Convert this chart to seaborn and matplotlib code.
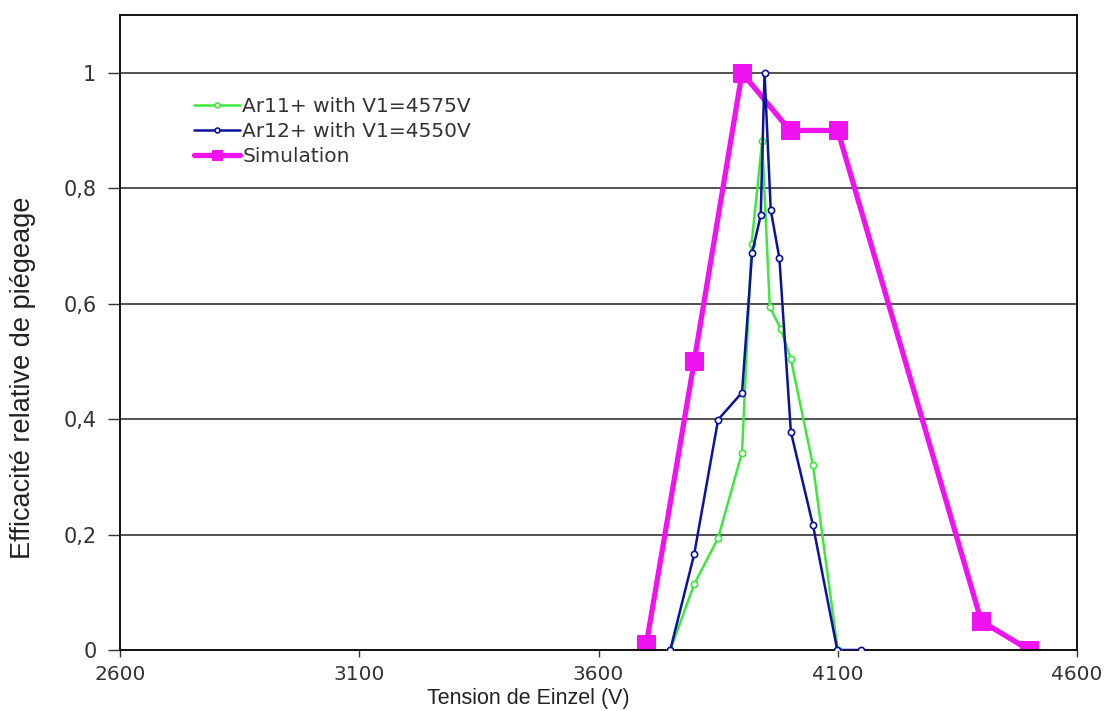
import matplotlib
matplotlib.use("Agg")
import matplotlib.pyplot as plt
import seaborn as sns
import pandas as pd

# Measured trapping efficiency (Ar11+, V1 = 4575 V)
ar11_v = [3750, 3800, 3850, 3900, 3920, 3942, 3958, 3981, 4002, 4048, 4100]
ar11_eff = [0.0, 0.114, 0.194, 0.342, 0.704, 0.881, 0.594, 0.556, 0.504, 0.321, 0.0]

# Measured trapping efficiency (Ar12+, V1 = 4550 V)
ar12_v = [3750, 3800, 3850, 3900, 3921, 3939, 3947, 3960, 3978, 4002, 4048, 4099, 4148]
ar12_eff = [0.0, 0.166, 0.399, 0.446, 0.688, 0.753, 1.0, 0.762, 0.679, 0.378, 0.217, 0.0, 0.0]

# Simulated efficiency
sim_v = [3700, 3800, 3900, 4000, 4100, 4400, 4500]
sim_eff = [0.01, 0.5, 1.0, 0.9, 0.9, 0.05, 0.0]

series_names = ["Ar11+ with V1=4575V", "Ar12+ with V1=4550V", "Simulation"]
x_ticks = [2600, 3100, 3600, 4100, 4600]
y_ticks = [0, 0.2, 0.4, 0.6, 0.8, 1.0]
y_tick_labels = ["0", "0,2", "0,4", "0,6", "0,8", "1"]

sns.set_theme(style="white")
plt.rcParams["font.family"] = ["DejaVu Sans"]

fig = plt.figure(figsize=(11.12, 7.11), dpi=100)
ax = fig.add_axes([120 / 1112, 1 - 650 / 711, 957 / 1112, 635 / 711])

df11 = pd.DataFrame({"v": ar11_v, "eff": ar11_eff})
df12 = pd.DataFrame({"v": ar12_v, "eff": ar12_eff})
dfs = pd.DataFrame({"v": sim_v, "eff": sim_eff})

sns.lineplot(data=df11, x="v", y="eff", ax=ax, color="#3ee83e", lw=1.8,
             marker="o", markersize=4.5, markerfacecolor="white",
             markeredgecolor="#3ee83e", markeredgewidth=1.2,
             estimator=None, sort=False, label=series_names[0], zorder=3)
sns.lineplot(data=df12, x="v", y="eff", ax=ax, color="#0c129c", lw=1.8,
             marker="o", markersize=4.5, markerfacecolor="white",
             markeredgecolor="#0c129c", markeredgewidth=1.2,
             estimator=None, sort=False, label=series_names[1], zorder=4)
sns.lineplot(data=dfs, x="v", y="eff", ax=ax, color="#f012f0", lw=3.8,
             marker="s", markersize=13, markerfacecolor="#f012f0",
             markeredgecolor="#f012f0",
             estimator=None, sort=False, label=series_names[2], zorder=2)

ax.set_xlim(2600, 4600)
ax.set_ylim(0, 1.1)
ax.set_xticks(x_ticks)
ax.set_xticklabels([str(t) for t in x_ticks])
ax.set_yticks(y_ticks)
ax.set_yticklabels(y_tick_labels)

ax.yaxis.grid(True, color="#222222", lw=1.1)
ax.xaxis.grid(False)
ax.set_axisbelow(True)
for sp in ax.spines.values():
    sp.set_color("#111111")
    sp.set_linewidth(1.4)

ax.tick_params(axis="x", which="major", direction="out", length=5, width=1,
               color="#333333", pad=6, labelsize=14.5, labelcolor="#333333",
               bottom=True)
ax.tick_params(axis="y", which="major", direction="out", length=9, width=1,
               color="#333333", pad=8, labelsize=15, labelcolor="#333333",
               left=True)

ax.set_xlabel("Tension de Einzel (V)", fontsize=15.5, family="Liberation Sans",
              color="#222222", va="bottom")
ax.xaxis.set_label_coords(0.427, -0.0925)
ax.set_ylabel("Efficacité relative de piégeage", fontsize=19.5,
              family="Liberation Sans", color="#222222")
ax.yaxis.set_label_coords(-0.088, 0.428)

leg = ax.legend(loc="upper left", bbox_to_anchor=(186 / 1112, 1 - 89 / 711),
                bbox_transform=fig.transFigure, frameon=False, fontsize=14.5,
                handlelength=2.3, handletextpad=0.1, labelspacing=0.3,
                borderaxespad=0)
for t in leg.get_texts():
    t.set_color("#333333")
for h in leg.legend_handles:
    if h.get_marker() == "s":
        h.set_markersize(7)
    else:
        h.set_markersize(3.5)

fig.savefig("out.png", dpi=100)
